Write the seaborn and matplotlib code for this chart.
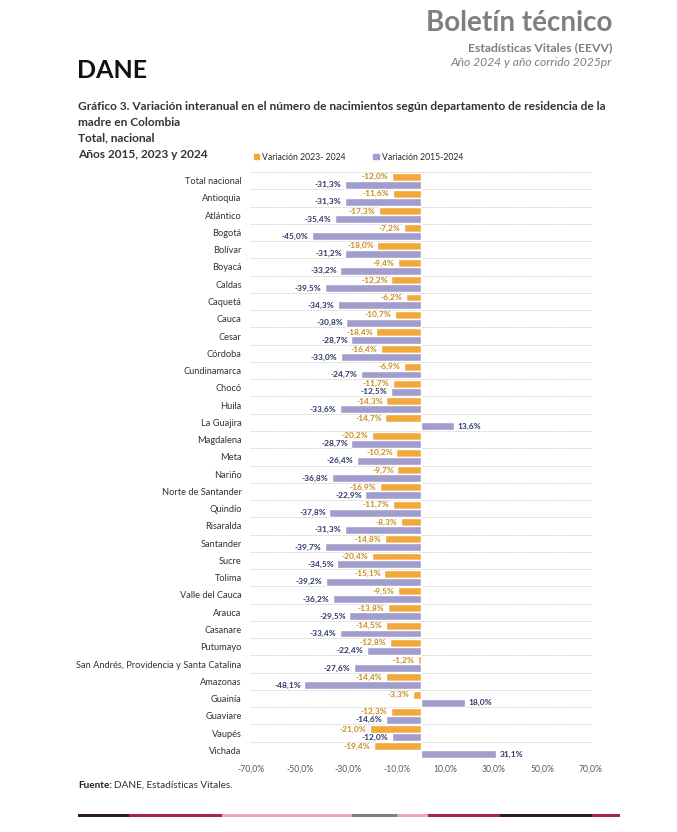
import pandas as pd
import numpy as np
import matplotlib
matplotlib.use("Agg")
import matplotlib.pyplot as plt
from matplotlib.patches import Patch, Rectangle
import seaborn as sns

departamentos = ["Total nacional", "Antioquia", "Atlántico", "Bogotá", "Bolívar", "Boyacá",
                 "Caldas", "Caquetá", "Cauca", "Cesar", "Córdoba", "Cundinamarca", "Chocó",
                 "Huila", "La Guajira", "Magdalena", "Meta", "Nariño", "Norte de Santander",
                 "Quindío", "Risaralda", "Santander", "Sucre", "Tolima", "Valle del Cauca",
                 "Arauca", "Casanare", "Putumayo", "San Andrés, Providencia y Santa Catalina",
                 "Amazonas", "Guainía", "Guaviare", "Vaupés", "Vichada"]

var_2023_2024 = [-12.0, -11.6, -17.3, -7.2, -18.0, -9.4, -12.2, -6.2, -10.7, -18.4, -16.4,
                 -6.9, -11.7, -14.3, -14.7, -20.2, -10.2, -9.7, -16.9, -11.7, -8.3, -14.8,
                 -20.4, -15.1, -9.5, -13.8, -14.5, -12.8, -1.2, -14.4, -3.3, -12.3, -21.0, -19.4]

var_2015_2024 = [-31.3, -31.3, -35.4, -45.0, -31.2, -33.2, -39.5, -34.3, -30.8, -28.7, -33.0,
                 -24.7, -12.5, -33.6, 13.6, -28.7, -26.4, -36.8, -22.9, -37.8, -31.3, -39.7,
                 -34.5, -39.2, -36.2, -29.5, -33.4, -22.4, -27.6, -48.1, 18.0, -14.6, -12.0, 31.1]

series = ["Variación 2023- 2024", "Variación 2015-2024"]
xticks = [-70, -50, -30, -10, 10, 30, 50, 70]

naranja = "#f2a93b"
morado = "#a19dcd"

df = pd.DataFrame({
    "departamento": departamentos * 2,
    "valor": var_2023_2024 + var_2015_2024,
    "serie": [series[0]] * len(departamentos) + [series[1]] * len(departamentos),
})

sns.set_theme(style="white")
plt.rcParams["font.family"] = ["Lato", "DejaVu Sans"]

fig = plt.figure(figsize=(6.77, 8.32), dpi=100)
ax = fig.add_axes([250 / 677, 1 - 759 / 832, 342 / 677, 587 / 832])

sns.barplot(data=df, y="departamento", x="valor", hue="serie", orient="h",
            palette=[naranja, morado], width=0.92, ax=ax, legend=False, saturation=1)

def fmt(v):
    return ("%.1f" % v).replace(".", ",") + "%"

ax.bar_label(ax.containers[0], labels=[fmt(v) for v in var_2023_2024], padding=2.5,
             fontsize=6, color="#c98d1f", fontweight="bold")
ax.bar_label(ax.containers[1], labels=[fmt(v) for v in var_2015_2024], padding=2.5,
             fontsize=6, color="#2e3a6b", fontweight="bold")

ax.set_xlim(-70.5, 70.5)
ax.set_ylim(len(departamentos) - 0.5, -0.5)
ax.set_xticks(xticks)
ax.set_xticklabels([fmt(t) for t in xticks], fontsize=6.2, color="#595959")
ax.tick_params(axis="y", labelsize=6.7, colors="#333333", length=0, pad=6)
ax.tick_params(axis="x", length=0, pad=4)
ax.set_yticks(np.arange(-0.5, len(departamentos) + 0.5, 1), minor=True)
ax.grid(which="minor", axis="y", color="#d0d0d0", linestyle=(0, (2, 1)), linewidth=0.6)
ax.grid(which="major", visible=False)
ax.set_axisbelow(True)
for s in ax.spines.values():
    s.set_visible(False)
ax.set_xlabel("")
ax.set_ylabel("")

# leyenda
handles = [Patch(color=naranja, label=series[0]), Patch(color=morado, label=series[1])]
fig.legend(handles=handles, loc="center left", bbox_to_anchor=(246 / 677, 1 - 157 / 832),
           ncol=2, frameon=False, fontsize=6.2, handlelength=0.6, handleheight=0.6,
           handletextpad=0.4, columnspacing=3.2)

# encabezado
fig.text(612 / 677, 1 - 23 / 832, "Boletín técnico", ha="right", va="center",
         fontsize=20, fontweight="bold", color="#7f7f7f")
fig.text(612 / 677, 1 - 48 / 832, "Estadísticas Vitales (EEVV)", ha="right", va="center",
         fontsize=8.8, fontweight="bold", color="#7f7f7f")
fig.text(612 / 677, 1 - 63 / 832, "Año 2024 y año corrido 2025pr", ha="right", va="center",
         fontsize=8.7, style="italic", color="#7f7f7f")
fig.text(77 / 677, 1 - 71 / 832, "DANE", ha="left", va="center", fontsize=18,
         fontweight="bold", color="#111111")

titulo = ["Gráfico 3. Variación interanual en el número de nacimientos según departamento de residencia de la",
          "madre en Colombia", "Total, nacional", "Años 2015, 2023 y 2024"]
for i, t in enumerate(titulo):
    fig.text(78 / 677, 1 - (106 + i * 16) / 832, t, ha="left", va="center",
             fontsize=8.6, fontweight="bold", color="#333333")

fig.text(78 / 677, 1 - 785 / 832, "Fuente:", ha="left", va="center", fontsize=7.2,
         fontweight="bold", color="#222222")
fig.text(114 / 677, 1 - 785 / 832, "DANE, Estadísticas Vitales.", ha="left", va="center",
         fontsize=7.2, color="#333333")

# franja inferior
franja = [(78, 129, "#2d1b26"), (129, 222, "#a6225b"), (222, 352, "#eba2c9"),
          (352, 397, "#7f7f7f"), (397, 428, "#eba2c9"), (428, 500, "#a6225b"),
          (500, 592, "#2d1b26"), (592, 620, "#a6225b")]
for x0, x1, c in franja:
    fig.add_artist(Rectangle((x0 / 677, 1 - 817 / 832), (x1 - x0) / 677, 3 / 832,
                             transform=fig.transFigure, color=c, lw=0))

fig.savefig("out.png", dpi=100)
